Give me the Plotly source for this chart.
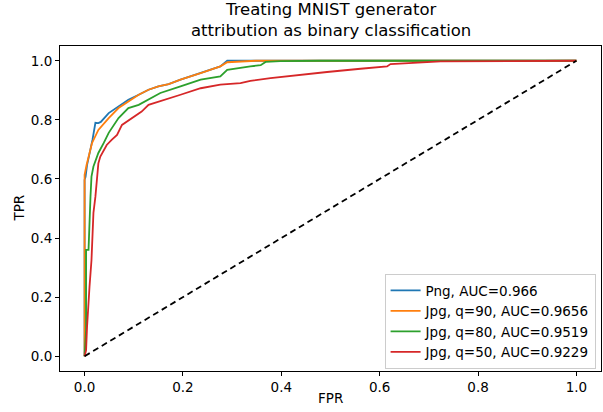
import plotly.graph_objects as go

png_fpr = [0, 0, 0.002, 0.005, 0.016, 0.018, 0.022, 0.028, 0.033, 0.049, 0.069, 0.089, 0.11, 0.13, 0.15, 0.171, 0.195, 0.236, 0.276, 0.29, 1.0]
png_tpr = [0, 0.597, 0.607, 0.647, 0.732, 0.749, 0.79, 0.789, 0.793, 0.823, 0.845, 0.868, 0.885, 0.902, 0.913, 0.921, 0.936, 0.958, 0.981, 1.0, 1.0]

q90_fpr = [0, 0, 0.004, 0.012, 0.015, 0.028, 0.049, 0.069, 0.089, 0.11, 0.13, 0.15, 0.171, 0.195, 0.236, 0.276, 0.29, 0.311, 0.348, 1.0]
q90_tpr = [0, 0.614, 0.647, 0.698, 0.721, 0.766, 0.806, 0.84, 0.862, 0.885, 0.902, 0.913, 0.921, 0.936, 0.958, 0.981, 0.995, 0.997, 1.0, 1.0]

q80_fpr = [0, 0.003, 0.003, 0.008, 0.012, 0.014, 0.018, 0.028, 0.039, 0.049, 0.069, 0.089, 0.11, 0.13, 0.154, 0.195, 0.236, 0.276, 0.29, 0.337, 0.358, 0.368, 0.398, 0.48, 1.0]
q80_tpr = [0, 0.088, 0.36, 0.36, 0.54, 0.608, 0.642, 0.688, 0.722, 0.756, 0.806, 0.84, 0.851, 0.868, 0.891, 0.913, 0.936, 0.947, 0.969, 0.981, 0.985, 0.996, 0.999, 1.0, 1.0]

q50_fpr = [0, 0.003, 0.005, 0.007, 0.01, 0.014, 0.015, 0.018, 0.022, 0.025, 0.028, 0.032, 0.039, 0.045, 0.055, 0.066, 0.076, 0.096, 0.116, 0.13, 0.15, 0.171, 0.195, 0.236, 0.276, 0.317, 0.337, 0.378, 0.439, 0.493, 0.561, 0.615, 0.622, 0.724, 1.0]
q50_tpr = [0, 0.02, 0.099, 0.167, 0.235, 0.325, 0.37, 0.485, 0.54, 0.597, 0.653, 0.676, 0.698, 0.715, 0.732, 0.749, 0.783, 0.806, 0.828, 0.851, 0.862, 0.874, 0.885, 0.907, 0.919, 0.924, 0.932, 0.941, 0.953, 0.962, 0.973, 0.981, 0.989, 0.998, 1.0]

chance = [0, 1]

names = ["Png, AUC=0.966", "Jpg, q=90, AUC=0.9656", "Jpg, q=80, AUC=0.9519", "Jpg, q=50, AUC=0.9229"]
colors = ["#1f77b4", "#ff7f0e", "#2ca02c", "#d62728"]
tick_vals = [0.0, 0.2, 0.4, 0.6, 0.8, 1.0]
tick_text = ["0.0", "0.2", "0.4", "0.6", "0.8", "1.0"]
title_text = "Treating MNIST generator<br>attribution as binary classification"

fig = go.Figure()
for fx, ty, nm, c in zip([png_fpr, q90_fpr, q80_fpr, q50_fpr],
                         [png_tpr, q90_tpr, q80_tpr, q50_tpr], names, colors):
    fig.add_trace(go.Scatter(x=fx, y=ty, mode="lines", name=nm,
                             line=dict(color=c, width=1.8)))
fig.add_trace(go.Scatter(x=chance, y=chance, mode="lines", showlegend=False,
                         line=dict(color="black", width=1.8, dash="6px,4px")))

axis_common = dict(showgrid=False, zeroline=False, showline=True, mirror=True,
                   linecolor="black", linewidth=1, ticks="outside", ticklen=4,
                   tickcolor="black", tickfont=dict(size=13.5, color="black"),
                   tickvals=tick_vals, ticktext=tick_text, automargin=False)

fig.update_layout(
    width=603, height=412,
    margin=dict(l=60, r=2, t=46, b=41, autoexpand=False),
    paper_bgcolor="white", plot_bgcolor="white",
    font=dict(family="DejaVu Sans", size=13.5, color="black"),
    xaxis=dict(range=[-0.05, 1.05], **axis_common),
    yaxis=dict(range=[-0.05, 1.05], **axis_common),
    legend=dict(x=0.99, y=0.006, xanchor="right", yanchor="bottom",
                bgcolor="rgba(255,255,255,0.8)", bordercolor="#cccccc", borderwidth=1,
                font=dict(size=13.5), tracegroupgap=0, itemwidth=30),
    annotations=[
        dict(text=title_text, xref="paper", yref="paper", x=0.5, y=1.0785,
             xanchor="center", yanchor="middle", showarrow=False,
             font=dict(size=16.5)),
        dict(text="FPR", xref="paper", yref="paper", x=0.5, y=-0.083,
             xanchor="center", yanchor="middle", showarrow=False,
             font=dict(size=13.5)),
        dict(text="TPR", xref="paper", yref="paper", x=-0.0776, y=0.5,
             xanchor="center", yanchor="middle", showarrow=False, textangle=-90,
             font=dict(size=13.5)),
    ],
)

fig.write_html("out.html", config={"displayModeBar": False},
               post_script="document.body.style.margin='0px';document.body.style.overflow='hidden';")
